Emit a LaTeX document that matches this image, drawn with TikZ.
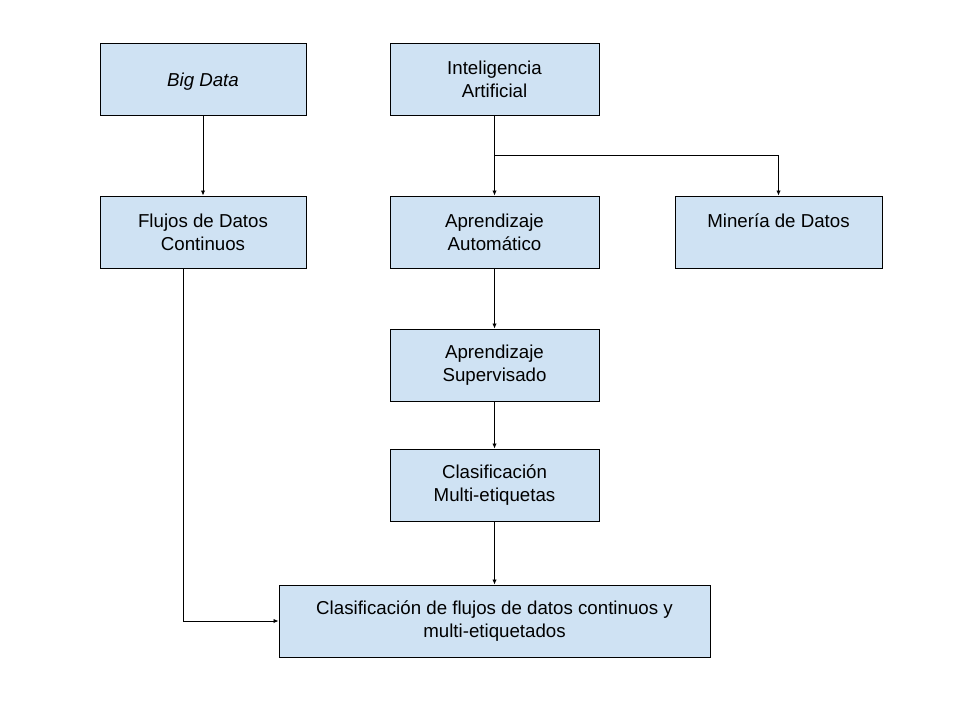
\documentclass[tikz,border=0pt]{standalone}
\usepackage{fontspec}
\setmainfont{Liberation Sans}
\usetikzlibrary{arrows.meta}
\definecolor{boxblue}{HTML}{CFE2F3}

\begin{document}
\begin{tikzpicture}[x=1pt,y=-1pt,
   box/.style={draw,fill=boxblue,line width=1pt,minimum height=72pt,
     align=center,font=\fontsize{18.7}{23}\selectfont,
     execute at begin node={\rule{0pt}{19.5pt}}},
   conn/.style={line width=0.9pt,-{Latex[length=5pt,width=4.5pt]}}]
\useasboundingbox (0,0) rectangle (960,720);
% upper row
\node[box,minimum width=206pt] (bigdata) at (203,79) {\textit{Big Data}};
\node[box,minimum width=209pt] (ia) at (494.5,79) {Inteligencia\\Artificial};
% second row
\node[box,minimum width=206pt] (flujos) at (203,232) {Flujos de Datos\\Continuos};
\node[box,minimum width=209pt] (aprauto) at (494.5,232) {Aprendizaje\\Automático};
\node[box,minimum width=207pt] (mineria) at (778.5,232) {Minería de Datos\\\mbox{}};
% middle column
\node[box,minimum width=209pt] (aprsup) at (494.5,365) {Aprendizaje\\Supervisado};
\node[box,minimum width=209pt] (clasif) at (494.5,485) {Clasificación\\Multi-etiquetas};
\node[box,minimum width=431pt] (final) at (494.5,621)
   {Clasificación de flujos de datos continuos y\\multi-etiquetados};
\coordinate (split) at (494.5,155);
% connectors
\draw[conn] (bigdata) -- (flujos);
\draw[line width=0.9pt] (ia) -- (split);
\draw[conn] (split) -- (aprauto);
\draw[conn] (split) -| (mineria);
\draw[conn] (aprauto) -- (aprsup);
\draw[conn] (aprsup) -- (clasif);
\draw[conn] (clasif) -- (final);
\draw[conn] ([xshift=-20pt]flujos.south) |- (final);
\end{tikzpicture}
\end{document}
